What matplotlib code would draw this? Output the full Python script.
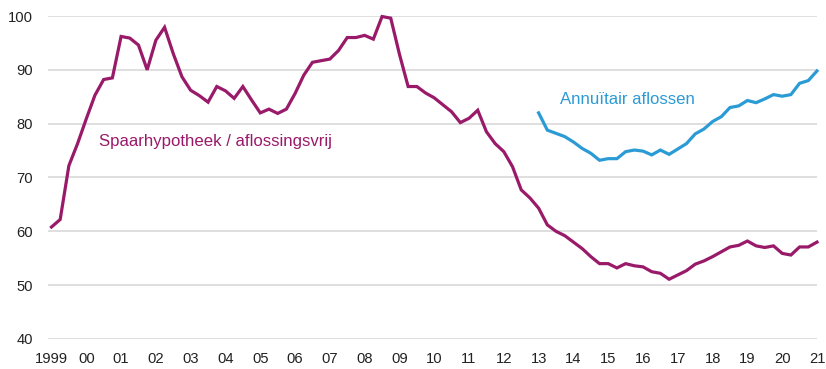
import numpy as np
import matplotlib.pyplot as plt

plt.rcParams['font.family'] = ['Liberation Sans', 'DejaVu Sans']

# quarterly index, 1999Q1 .. 2021Q1
spaar = [60.8, 62.2, 72.2, 76.3, 80.9, 85.3, 88.2, 88.5,
         96.2, 95.9, 94.6, 90.0, 95.5, 97.9, 93.0, 88.7,
         86.2, 85.2, 84.0, 86.9, 86.1, 84.7, 86.9, 84.4,
         82.0, 82.7, 81.9, 82.7, 85.6, 89.0, 91.4, 91.7,
         92.0, 93.6, 96.0, 96.0, 96.4, 95.7, 99.9, 99.6,
         92.9, 86.9, 86.9, 85.7, 84.8, 83.5, 82.2, 80.2,
         81.0, 82.5, 78.5, 76.3, 74.8, 72.0, 67.7, 66.2,
         64.3, 61.2, 60.0, 59.2, 58.0, 56.8, 55.3, 54.0,
         54.0, 53.2, 54.0, 53.6, 53.4, 52.5, 52.2, 51.1,
         51.9, 52.7, 53.9, 54.5, 55.3, 56.2, 57.1, 57.4,
         58.2, 57.3, 57.0, 57.3, 55.9, 55.6, 57.1, 57.1,
         58.0]
# from 2013Q1 onwards
annuitair = [82.0, 78.8, 78.2, 77.6, 76.6, 75.4, 74.5, 73.2,
             73.5, 73.5, 74.8, 75.1, 74.9, 74.2, 75.1, 74.3,
             75.3, 76.3, 78.1, 79.0, 80.4, 81.3, 83.0, 83.3,
             84.3, 83.9, 84.6, 85.4, 85.1, 85.4, 87.5, 88.0,
             89.8]
years = list(range(1999, 2022))
year_labels = ['1999'] + ['%02d' % (y % 100) for y in years[1:]]

PURPLE = '#9a1a6a'
BLUE = '#2b9bd6'

x1 = 1999 + np.arange(len(spaar)) / 4
x2 = 2013 + np.arange(len(annuitair)) / 4

fig = plt.figure(figsize=(8.26, 3.69), dpi=100)
ax = fig.add_axes([48/826, 1 - 339/369, (817-48)/826, (339-16)/369])

ax.plot(x1, spaar, color=PURPLE, lw=2.3, solid_joinstyle='miter', clip_on=False, zorder=3)
ax.plot(x2, annuitair, color=BLUE, lw=2.3, solid_joinstyle='miter', clip_on=False, zorder=3)

ax.set_xlim(1998.9, 2021.0)
ax.set_ylim(40, 100)
ax.set_yticks(range(40, 101, 10))
ax.set_xticks(years)
ax.set_xticklabels(year_labels)

ax.grid(axis='y', color='#d6d6d6', lw=1.1)
ax.set_axisbelow(True)
for s in ax.spines.values():
    s.set_visible(False)
ax.tick_params(length=0, labelsize=10.6, colors='#222222')
ax.tick_params(axis='y', pad=11)
ax.tick_params(axis='x', pad=9.5)

ax.text(2000.36, 76.6, 'Spaarhypotheek / aflossingsvrij', color=PURPLE,
        fontsize=12.1, va='center', ha='left')
ax.text(2013.61, 84.4, 'Annuïtair aflossen', color=BLUE,
        fontsize=12.1, va='center', ha='left')

fig.savefig('out.png', dpi=100)
